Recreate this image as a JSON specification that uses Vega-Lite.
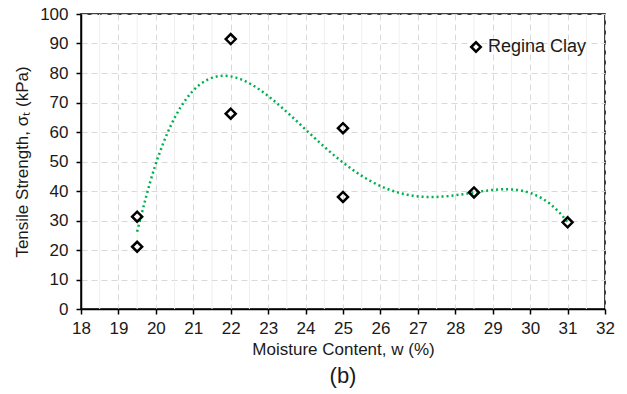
{
  "$schema": "https://vega.github.io/schema/vega-lite/v6.json",
  "width": 524,
  "height": 295,
  "autosize": "none",
  "padding": {"left": 81, "top": 14, "right": 22, "bottom": 85},
  "background": "white",
  "config": {
    "font": "Liberation Sans",
    "view": {"stroke": "#000000", "strokeWidth": 1.5}
  },
  "title": {
    "text": "(b)",
    "orient": "bottom",
    "anchor": "middle",
    "font": "Liberation Sans",
    "fontSize": 22,
    "fontWeight": "normal",
    "color": "#1a1a1a",
    "offset": 9
  },
  "data": {
    "values": [
      {"w": 19.5, "sigma": 31.3, "series": "Regina Clay"},
      {"w": 19.5, "sigma": 21.1, "series": "Regina Clay"},
      {"w": 22.0, "sigma": 91.5, "series": "Regina Clay"},
      {"w": 22.0, "sigma": 66.2, "series": "Regina Clay"},
      {"w": 25.0, "sigma": 61.3, "series": "Regina Clay"},
      {"w": 25.0, "sigma": 38.0, "series": "Regina Clay"},
      {"w": 28.5, "sigma": 39.5, "series": "Regina Clay"},
      {"w": 31.0, "sigma": 29.4, "series": "Regina Clay"}
    ]
  },
  "layer": [
    {
      "data": {"values": [{"w": 18.5}, {"w": 19.5}, {"w": 20.5}, {"w": 21.5}, {"w": 22.5}, {"w": 23.5}, {"w": 24.5}, {"w": 25.5}, {"w": 26.5}, {"w": 27.5}, {"w": 28.5}, {"w": 29.5}, {"w": 30.5}, {"w": 31.5}]},
      "mark": {"type": "rule", "color": "#efefef", "strokeWidth": 1},
      "encoding": {
        "x": {
          "field": "w",
          "type": "quantitative",
          "title": "Moisture Content, w (%)",
          "scale": {"domain": [18, 32], "nice": false, "zero": false},
          "axis": {"values": [18, 19, 20, 21, 22, 23, 24, 25, 26, 27, 28, 29, 30, 31, 32], "labelFlush": false, "labelOverlap": false, "labelPadding": 6, "titlePadding": 5, "labelFontSize": 17, "titleFontSize": 17, "labelFont": "Liberation Sans", "titleFont": "Liberation Sans", "labelColor": "#1a1a1a", "titleColor": "#1a1a1a", "titleFontWeight": "normal", "domainColor": "#000000", "domainWidth": 1.5, "tickColor": "#000000", "tickWidth": 1.5, "tickSize": 5, "gridColor": "#d9d9d9", "gridDash": [6, 4], "gridWidth": 1}
        }
      }
    },
    {
      "transform": [
        {"regression": "sigma", "on": "w", "method": "poly", "order": 4, "extent": [19.5, 31]}
      ],
      "mark": {"type": "line", "color": "#00B050", "strokeWidth": 2.5, "strokeDash": [2, 3], "interpolate": "monotone"},
      "encoding": {
        "x": {
          "field": "w",
          "type": "quantitative",
          "title": "Moisture Content, w (%)",
          "scale": {"domain": [18, 32], "nice": false, "zero": false},
          "axis": {"values": [18, 19, 20, 21, 22, 23, 24, 25, 26, 27, 28, 29, 30, 31, 32], "labelFlush": false, "labelOverlap": false, "labelPadding": 6, "titlePadding": 5, "labelFontSize": 17, "titleFontSize": 17, "labelFont": "Liberation Sans", "titleFont": "Liberation Sans", "labelColor": "#1a1a1a", "titleColor": "#1a1a1a", "titleFontWeight": "normal", "domainColor": "#000000", "domainWidth": 1.5, "tickColor": "#000000", "tickWidth": 1.5, "tickSize": 5, "gridColor": "#d9d9d9", "gridDash": [6, 4], "gridWidth": 1}
        },
        "y": {
          "field": "sigma",
          "type": "quantitative",
          "title": "Tensile Strength, σₜ (kPa)",
          "scale": {"domain": [0, 100], "nice": false},
          "axis": {"values": [0, 10, 20, 30, 40, 50, 60, 70, 80, 90, 100], "labelFlush": false, "labelOverlap": false, "labelPadding": 8, "titlePadding": 8, "labelFontSize": 17, "titleFontSize": 17, "labelFont": "Liberation Sans", "titleFont": "Liberation Sans", "labelColor": "#1a1a1a", "titleColor": "#1a1a1a", "titleFontWeight": "normal", "domainColor": "#000000", "domainWidth": 1.5, "tickColor": "#000000", "tickWidth": 1.5, "tickSize": 5, "gridColor": "#d9d9d9", "gridDash": [6, 4], "gridWidth": 1}
        }
      }
    },
    {
      "mark": {"type": "point", "shape": "diamond", "filled": false, "strokeWidth": 2.5, "size": 100, "opacity": 1},
      "encoding": {
        "x": {
          "field": "w",
          "type": "quantitative",
          "title": "Moisture Content, w (%)",
          "scale": {"domain": [18, 32], "nice": false, "zero": false},
          "axis": {"values": [18, 19, 20, 21, 22, 23, 24, 25, 26, 27, 28, 29, 30, 31, 32], "labelFlush": false, "labelOverlap": false, "labelPadding": 6, "titlePadding": 5, "labelFontSize": 17, "titleFontSize": 17, "labelFont": "Liberation Sans", "titleFont": "Liberation Sans", "labelColor": "#1a1a1a", "titleColor": "#1a1a1a", "titleFontWeight": "normal", "domainColor": "#000000", "domainWidth": 1.5, "tickColor": "#000000", "tickWidth": 1.5, "tickSize": 5, "gridColor": "#d9d9d9", "gridDash": [6, 4], "gridWidth": 1}
        },
        "y": {
          "field": "sigma",
          "type": "quantitative",
          "title": "Tensile Strength, σₜ (kPa)",
          "scale": {"domain": [0, 100], "nice": false},
          "axis": {"values": [0, 10, 20, 30, 40, 50, 60, 70, 80, 90, 100], "labelFlush": false, "labelOverlap": false, "labelPadding": 8, "titlePadding": 8, "labelFontSize": 17, "titleFontSize": 17, "labelFont": "Liberation Sans", "titleFont": "Liberation Sans", "labelColor": "#1a1a1a", "titleColor": "#1a1a1a", "titleFontWeight": "normal", "domainColor": "#000000", "domainWidth": 1.5, "tickColor": "#000000", "tickWidth": 1.5, "tickSize": 5, "gridColor": "#d9d9d9", "gridDash": [6, 4], "gridWidth": 1}
        },
        "color": {
          "field": "series",
          "type": "nominal",
          "title": null,
          "scale": {"range": ["#000000"]},
          "legend": {
            "orient": "none",
            "legendX": 386,
            "legendY": 24,
            "labelFontSize": 18,
            "labelFont": "Liberation Sans",
            "labelColor": "#1a1a1a",
            "symbolType": "diamond",
            "symbolSize": 90,
            "symbolStrokeWidth": 2.5,
            "symbolFillColor": "transparent",
            "labelOffset": 3
          }
        }
      }
    }
  ]
}
